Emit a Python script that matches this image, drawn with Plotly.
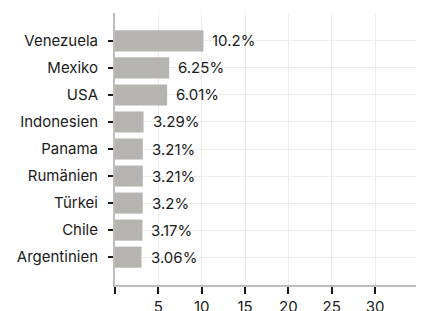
import plotly.graph_objects as go

countries = ["Venezuela", "Mexiko", "USA", "Indonesien", "Panama", "Rumänien", "Türkei", "Chile", "Argentinien"]
values = [10.2, 6.25, 6.01, 3.29, 3.21, 3.21, 3.2, 3.17, 3.06]
labels = ["10.2%", "6.25%", "6.01%", "3.29%", "3.21%", "3.21%", "3.2%", "3.17%", "3.06%"]
x_tickvals = [0, 5, 10, 15, 20, 25, 30]
x_ticktext = ["", "5", "10", "15", "20", "25", "30"]

FONT = "Inter, Roboto, sans-serif"
FS = 15

fig = go.Figure()
fig.add_trace(go.Bar(
    x=values, y=countries, orientation="h",
    marker=dict(color="#b5b4b0", line=dict(width=0)),
    hoverinfo="skip",
))

for c, v, t in zip(countries, values, labels):
    fig.add_annotation(x=v, y=c, text=t, showarrow=False, xanchor="left",
                       xshift=7, font=dict(family=FONT, size=FS, color="#1a1a1a"))

fig.update_layout(
    width=416, height=303,
    margin=dict(l=107, r=0, t=5, b=26, autoexpand=False),
    paper_bgcolor="white", plot_bgcolor="white",
    bargap=0.22,
    showlegend=False,
    font=dict(family=FONT, size=FS, color="#1a1a1a"),
)
fig.update_xaxes(
    range=[0, 35.64], automargin=False,
    tickvals=x_tickvals, ticktext=x_ticktext,
    showgrid=True, gridcolor="#ececec", gridwidth=1,
    minor=dict(dtick=5, tick0=0, showgrid=True, gridcolor="#ececec", gridwidth=1, ticklen=0),
    ticks="outside", ticklen=7, tickwidth=2, tickcolor="#1a1a1a",
    showline=True, linecolor="#bdbdbd", linewidth=2,
    zeroline=False,
    tickfont=dict(family=FONT, size=FS, color="#1a1a1a"),
)
fig.update_yaxes(
    categoryorder="array", categoryarray=countries,
    range=[9.03, -1.03], automargin=False,
    showgrid=True, gridcolor="#ececec", gridwidth=1,
    ticks="outside", ticklen=5, tickwidth=2, tickcolor="#1a1a1a",
    ticklabelstandoff=7,
    showline=True, linecolor="#bdbdbd", linewidth=2,
    zeroline=False,
    tickfont=dict(family=FONT, size=FS, color="#1a1a1a"),
)

fig.write_html("out.html")
